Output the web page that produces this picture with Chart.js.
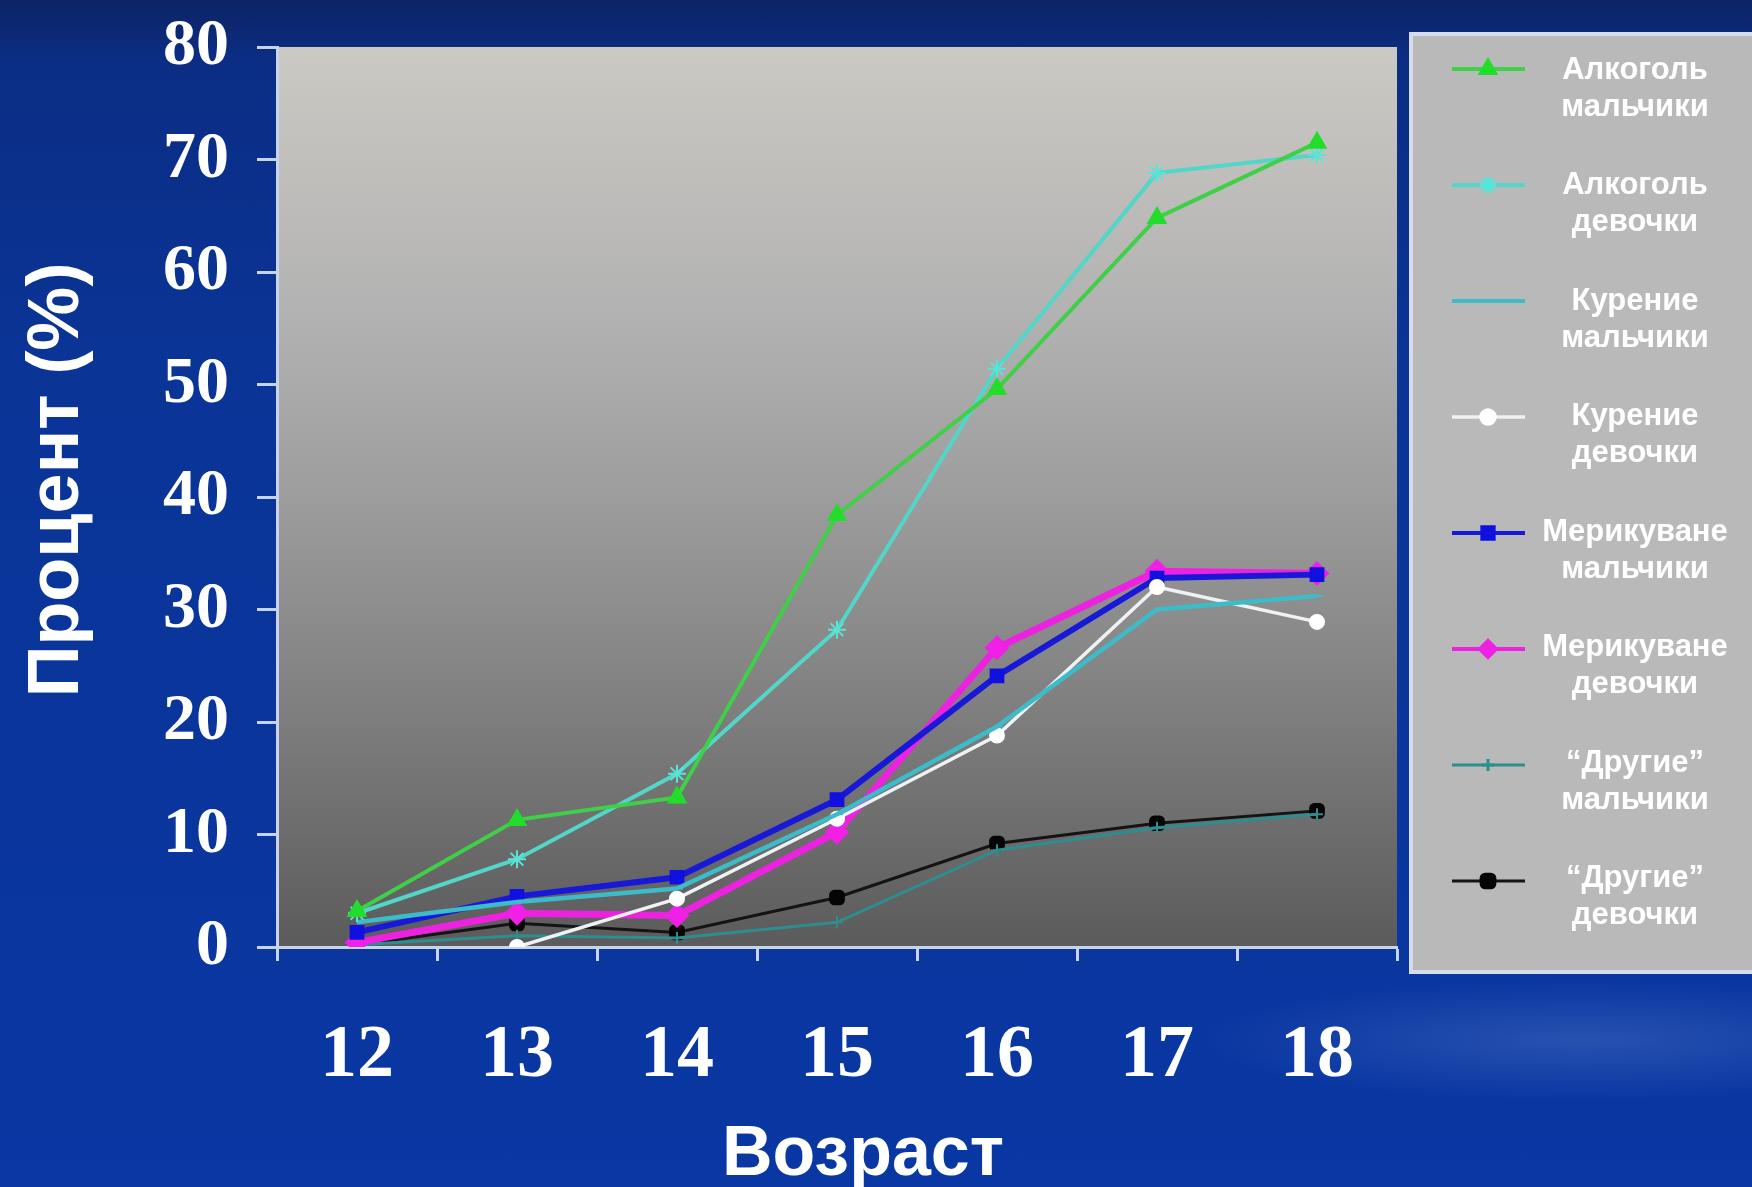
<!DOCTYPE html>
<html lang="ru">
<head>
<meta charset="utf-8">
<title>Процент по возрасту</title>
<script src="https://cdn.jsdelivr.net/npm/chart.js@4.4.1/dist/chart.umd.min.js"></script>
<style>
  html, body { margin: 0; padding: 0; width: 1752px; height: 1187px; overflow: hidden; }
  body {
    background:
      radial-gradient(ellipse 380px 60px at 1580px 1040px, rgba(110,145,215,0.30), rgba(110,145,215,0) 100%),
      linear-gradient(180deg, #0d2464 0%, #0b2d84 5%, #0a3496 30%, #0937a3 100%);
  }
  #chart { display: block; }
</style>
</head>
<body>
<canvas id="chart" width="1752" height="1187"></canvas>
<script>
// Age groups on the horizontal axis
const ages = ['12', '13', '14', '15', '16', '17', '18'];

// Share of respondents (%) by age
const alcoholBoys    = [3.2, 11.3, 13.3, 38.4, 49.6, 64.8, 71.5];
const alcoholGirls   = [3.0, 7.8, 15.4, 28.2, 51.4, 68.8, 70.4];
const smokingBoys    = [2.2, 4.0, 5.2, 11.8, 19.6, 30.0, 31.2];
const smokingGirls   = [null, 0.0, 4.3, 11.4, 18.8, 32.0, 28.9];
const marijuanaBoys  = [1.3, 4.5, 6.2, 13.1, 24.1, 32.8, 33.1];
const marijuanaGirls = [0.4, 3.0, 2.8, 10.2, 26.6, 33.4, 33.2];
const otherBoys      = [0.2, 1.0, 0.8, 2.2, 8.6, 10.6, 11.8];
const otherGirls     = [0.2, 2.1, 1.3, 4.4, 9.2, 11.0, 12.1];

// Legend captions, two lines each
const seriesNames = [
  ['Алкоголь', 'мальчики'],
  ['Алкоголь', 'девочки'],
  ['Курение', 'мальчики'],
  ['Курение', 'девочки'],
  ['Мерикуване', 'мальчики'],
  ['Мерикуване', 'девочки'],
  ['“Другие”', 'мальчики'],
  ['“Другие”', 'девочки']
];

const yMin = 0, yMax = 80, yStep = 10;
const xTitle = 'Возраст';
const yTitle = 'Процент (%)';

const seriesValues = [alcoholBoys, alcoholGirls, smokingBoys, smokingGirls,
                      marijuanaBoys, marijuanaGirls, otherBoys, otherGirls];

const seriesStyles = [
  { color: '#3fcf48', point: '#22dd2a', width: 4,   style: 'triangle',    r: 10 },
  { color: '#52d6c8', point: '#5ae4d6', width: 4,   style: 'star',        r: 9 },
  { color: '#3cbcc8', point: '#3cbcc8', width: 4.5, style: 'dash',        r: 6 },
  { color: '#eef2f4', point: '#ffffff', width: 3.5, style: 'circle',      r: 7 },
  { color: '#1818d8', point: '#1010e0', width: 6,   style: 'rect',        r: 9 },
  { color: '#ec22e0', point: '#f020e6', width: 7,   style: 'rectRot',     r: 11 },
  { color: '#2c8e8e', point: '#2c8e8e', width: 3,   style: 'cross',       r: 6 },
  { color: '#141414', point: '#050505', width: 3,   style: 'rectRounded', r: 8 }
];

const datasets = seriesValues.map((vals, i) => {
  const s = seriesStyles[i];
  return {
    label: seriesNames[i].join(' '),
    data: vals,
    borderColor: s.color,
    backgroundColor: s.point,
    borderWidth: s.width,
    pointStyle: s.style,
    pointRadius: s.r,
    pointBackgroundColor: s.point,
    pointBorderColor: s.point,
    pointBorderWidth: 2,
    tension: 0,
    spanGaps: false
  };
});

const axisColor = '#c6d4f0';

// Grey vertical gradient behind the plotted lines
const plotBackground = {
  id: 'plotBackground',
  beforeDraw(chart) {
    const { ctx, chartArea: a } = chart;
    const g = ctx.createLinearGradient(0, a.top, 0, a.bottom);
    g.addColorStop(0.00, '#cbc9c3');
    g.addColorStop(0.30, '#b2b2b2');
    g.addColorStop(0.50, '#9d9d9d');
    g.addColorStop(0.75, '#7d7d7d');
    g.addColorStop(1.00, '#5b5b5b');
    ctx.save();
    ctx.fillStyle = g;
    ctx.fillRect(a.left, a.top, a.right - a.left, a.bottom - a.top);
    ctx.restore();
  }
};

// Axis titles and the boxed legend on the right
const decorations = {
  id: 'decorations',
  afterDraw(chart) {
    const ctx = chart.ctx;
    ctx.save();
    ctx.fillStyle = '#ffffff';
    ctx.textAlign = 'center';
    ctx.textBaseline = 'middle';

    ctx.font = 'bold 70px "Liberation Sans", Arial, sans-serif';
    ctx.fillText(xTitle, 863, 1156);

    ctx.save();
    ctx.translate(58, 480);
    ctx.rotate(-Math.PI / 2);
    ctx.font = 'bold 72px "Liberation Sans", Arial, sans-serif';
    ctx.fillText(yTitle, 0, 0);
    ctx.restore();

    // legend box
    const bx = 1411, by = 34, bw = 345, bh = 938;
    ctx.fillStyle = '#b9b9b9';
    ctx.fillRect(bx, by, bw, bh);
    ctx.strokeStyle = '#d6dcea';
    ctx.lineWidth = 4;
    ctx.strokeRect(bx, by, bw, bh);

    chart.data.datasets.forEach((ds, i) => {
      const sy = 69 + i * 116;
      ctx.strokeStyle = ds.borderColor;
      ctx.lineWidth = Math.min(ds.borderWidth, 4);
      ctx.beginPath();
      ctx.moveTo(1452, sy);
      ctx.lineTo(1525, sy);
      ctx.stroke();
      ctx.fillStyle = ds.pointBackgroundColor;
      ctx.strokeStyle = ds.pointBorderColor;
      Chart.helpers.drawPoint(ctx, {
        pointStyle: ds.pointStyle,
        radius: Math.min(ds.pointRadius, 8),
        rotation: 0,
        borderWidth: 2
      }, 1488, sy);

      const tc = 88 + i * 115.5;
      ctx.fillStyle = '#ffffff';
      ctx.font = 'bold 31px "Liberation Sans", Arial, sans-serif';
      ctx.textAlign = 'center';
      ctx.textBaseline = 'middle';
      ctx.fillText(seriesNames[i][0], 1635, tc - 18);
      ctx.fillText(seriesNames[i][1], 1635, tc + 19);
    });
    ctx.restore();
  }
};

new Chart(document.getElementById('chart'), {
  type: 'line',
  data: { labels: ages, datasets },
  options: {
    responsive: false,
    animation: false,
    devicePixelRatio: 1,
    layout: { padding: { left: 0, right: 355, top: 47, bottom: 0 } },
    plugins: {
      legend: { display: false },
      tooltip: { enabled: false }
    },
    scales: {
      x: {
        offset: true,
        afterFit(scale) {
          scale.height = 240;
          scale.paddingLeft = 0;
          scale.paddingRight = 0;
        },
        grid: {
          display: true,
          offset: true,
          drawOnChartArea: false,
          drawTicks: true,
          tickLength: 14,
          tickWidth: 3,
          tickColor: axisColor
        },
        border: { display: true, color: axisColor, width: 3 },
        ticks: {
          color: '#ffffff',
          padding: 51,
          font: { family: '"Liberation Serif", "Times New Roman", serif', size: 74, weight: 'bold' }
        }
      },
      y: {
        min: yMin,
        max: yMax,
        afterFit(scale) {
          scale.width = 277;
          scale.paddingTop = 0;
          scale.paddingBottom = 0;
        },
        grid: {
          display: true,
          drawOnChartArea: false,
          drawTicks: true,
          tickLength: 20,
          tickWidth: 3,
          tickColor: axisColor
        },
        border: { display: true, color: axisColor, width: 3 },
        ticks: {
          stepSize: yStep,
          color: '#ffffff',
          padding: 28,
          font: { family: '"Liberation Serif", "Times New Roman", serif', size: 66, weight: 'bold' }
        }
      }
    }
  },
  plugins: [plotBackground, decorations]
});
</script>
</body>
</html>
